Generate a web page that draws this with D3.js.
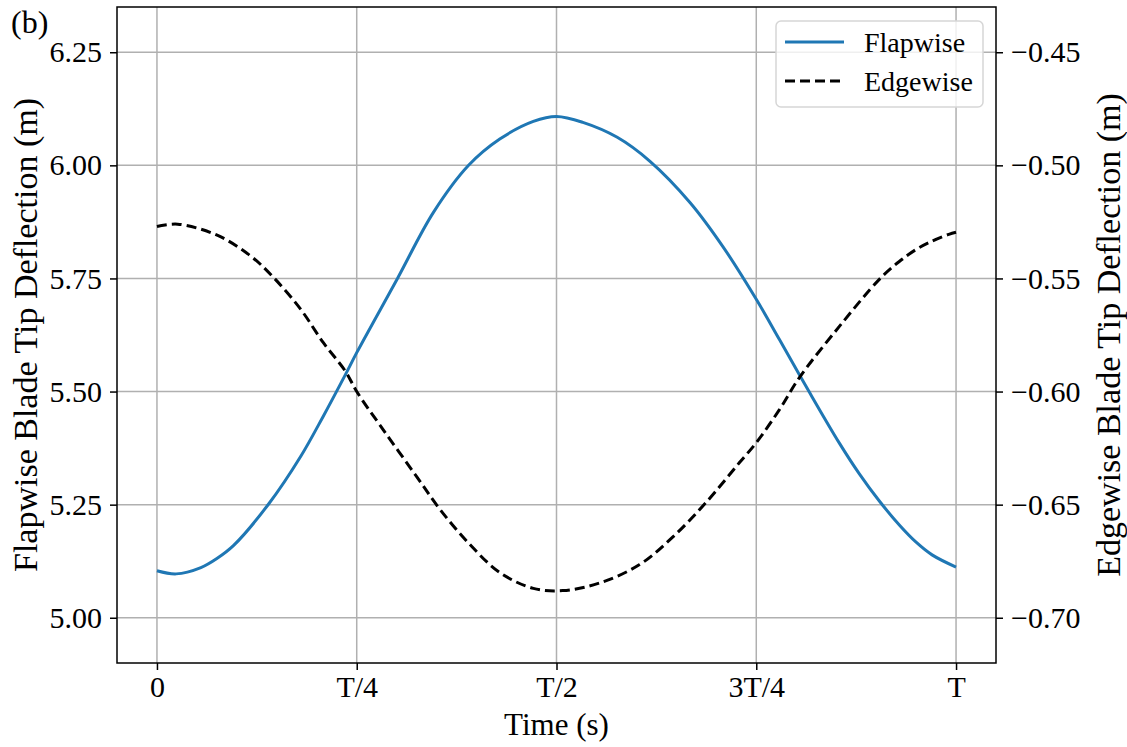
<!DOCTYPE html>
<html>
<head>
<meta charset="utf-8">
<script src="https://cdn.jsdelivr.net/npm/d3@7"></script>
<style>
  body { margin: 0; background: #fff; }
  svg { font-family: 'Liberation Serif', 'Times New Roman', serif; }
</style>
</head>
<body>
<svg id="container" width="1127" height="747"></svg>
<script>
// time as a fraction of the period T
const flapTime = [0, 0.024, 0.055, 0.075, 0.096, 0.14, 0.18, 0.208, 0.236, 0.25, 0.301, 0.346, 0.39, 0.429, 0.471, 0.5, 0.533, 0.576, 0.617, 0.667, 0.708, 0.75, 0.779, 0.816, 0.854, 0.879, 0.904, 0.929, 0.95, 0.97, 1]
const flapwise = [5.104, 5.097, 5.111, 5.131, 5.16, 5.252, 5.357, 5.445, 5.538, 5.586, 5.75, 5.896, 6.0, 6.058, 6.097, 6.108, 6.095, 6.062, 6.009, 5.918, 5.821, 5.704, 5.615, 5.5, 5.386, 5.318, 5.258, 5.205, 5.167, 5.139, 5.112]

const edgeTime = [0, 0.026, 0.076, 0.117, 0.146, 0.18, 0.208, 0.236, 0.25, 0.283, 0.325, 0.354, 0.39, 0.429, 0.471, 0.508, 0.555, 0.604, 0.645, 0.687, 0.729, 0.75, 0.779, 0.804, 0.854, 0.904, 0.929, 0.95, 0.97, 0.991, 1]
const edgewise = [-0.527, -0.526, -0.531, -0.54, -0.5496, -0.5637, -0.5783, -0.5911, -0.6, -0.6168, -0.6376, -0.652, -0.667, -0.68, -0.687, -0.688, -0.6845, -0.6765, -0.6645, -0.6491, -0.6314, -0.6226, -0.608, -0.5938, -0.5712, -0.5504, -0.5425, -0.5372, -0.5335, -0.5305, -0.5296]

const xTicks = [0, 0.25, 0.5, 0.75, 1]
const xTickLabels = ['0', 'T/4', 'T/2', '3T/4', 'T']
const leftTicks = [5.0, 5.25, 5.5, 5.75, 6.0, 6.25]
const rightTicks = [-0.7, -0.65, -0.6, -0.55, -0.5, -0.45]
const seriesNames = ['Flapwise', 'Edgewise']

const svg = d3.select('#container')
const plotL = 117, plotR = 996, plotT = 7, plotB = 663

const xScale = d3.scaleLinear().domain([-0.05, 1.05]).range([plotL, plotR])
const yLeft = d3.scaleLinear().domain([4.9, 6.35]).range([plotB, plotT])
const yRight = d3.scaleLinear().domain([-0.72, -0.43]).range([plotB, plotT])

// grid
const grid = svg.append('g')
grid.selectAll('.vg').data(xTicks).enter().append('line')
  .attr('x1', (d) => xScale(d)).attr('x2', (d) => xScale(d))
  .attr('y1', plotT).attr('y2', plotB)
  .style('stroke', '#b0b0b0').style('stroke-width', 1.5)
grid.selectAll('.hg').data(leftTicks).enter().append('line')
  .attr('x1', plotL).attr('x2', plotR)
  .attr('y1', (d) => yLeft(d)).attr('y2', (d) => yLeft(d))
  .style('stroke', '#b0b0b0').style('stroke-width', 1.5)

const flapLine = d3.line()
  .x((d, i) => xScale(flapTime[i]))
  .y((d) => yLeft(d))
  .curve(d3.curveCatmullRom)
const edgeLine = d3.line()
  .x((d, i) => xScale(edgeTime[i]))
  .y((d) => yRight(d))
  .curve(d3.curveCatmullRom)

svg.append('path').datum(flapwise)
  .attr('d', flapLine)
  .style('fill', 'none').style('stroke', '#1f77b4').style('stroke-width', 3)
svg.append('path').datum(edgewise)
  .attr('d', edgeLine)
  .style('fill', 'none').style('stroke', '#000').style('stroke-width', 3)
  .style('stroke-dasharray', '10,5')

// axes
const fontSize = '30px'
const xAxis = d3.axisBottom(xScale).tickValues(xTicks)
  .tickFormat((d, i) => xTickLabels[i]).tickSizeOuter(0).tickSize(7).tickPadding(6)
const leftAxis = d3.axisLeft(yLeft).tickValues(leftTicks)
  .tickFormat(d3.format('.2f')).tickSizeOuter(0).tickSize(7).tickPadding(8)
const rightAxis = d3.axisRight(yRight).tickValues(rightTicks)
  .tickFormat(d3.format('.2f')).tickSizeOuter(0).tickSize(7).tickPadding(8)

const styleAxis = (g) => {
  g.select('.domain').remove()
  g.selectAll('line').style('stroke', '#000').style('stroke-width', 1.5)
  g.selectAll('text').style('font-size', fontSize).style('fill', '#000')
    .style('font-family', "'Liberation Serif', serif")
}
svg.append('g').attr('transform', `translate(0,${plotB})`).call(xAxis).call(styleAxis)
svg.append('g').attr('transform', `translate(${plotL},0)`).call(leftAxis).call(styleAxis)
svg.append('g').attr('transform', `translate(${plotR},0)`).call(rightAxis).call(styleAxis)

// frame
svg.append('rect')
  .attr('x', plotL).attr('y', plotT)
  .attr('width', plotR - plotL).attr('height', plotB - plotT)
  .style('fill', 'none').style('stroke', '#000').style('stroke-width', 1.5)

// axis labels
svg.append('text')
  .attr('x', (plotL + plotR) / 2).attr('y', 735)
  .attr('text-anchor', 'middle').style('font-size', '31px')
  .text('Time (s)')
svg.append('text')
  .attr('transform', `translate(37,${(plotT + plotB) / 2}) rotate(-90)`)
  .attr('text-anchor', 'middle').style('font-size', '34px')
  .text('Flapwise Blade Tip Deflection (m)')
svg.append('text')
  .attr('transform', `translate(1120,${(plotT + plotB) / 2}) rotate(-90)`)
  .attr('text-anchor', 'middle').style('font-size', '34px')
  .text('Edgewise Blade Tip Deflection (m)')

svg.append('text')
  .attr('x', 11).attr('y', 33)
  .style('font-size', '32px')
  .text('(b)')

// legend
const legend = svg.append('g')
legend.append('rect')
  .attr('x', 776).attr('y', 21).attr('width', 207).attr('height', 86)
  .attr('rx', 5)
  .style('fill', '#fff').style('fill-opacity', 0.8)
  .style('stroke', '#d6d6d6').style('stroke-width', 1.5)
const rows = legend.selectAll('.row').data(seriesNames).enter().append('g')
  .attr('transform', (d, i) => `translate(0,${42 + i * 39})`)
rows.append('line')
  .attr('x1', 785).attr('x2', 844)
  .style('stroke', (d, i) => (i === 0 ? '#1f77b4' : '#000'))
  .style('stroke-width', 3)
  .style('stroke-dasharray', (d, i) => (i === 0 ? null : '10,5'))
rows.append('text')
  .attr('x', 864).attr('y', 10)
  .style('font-size', '28px')
  .text((d) => d)
</script>
</body>
</html>
